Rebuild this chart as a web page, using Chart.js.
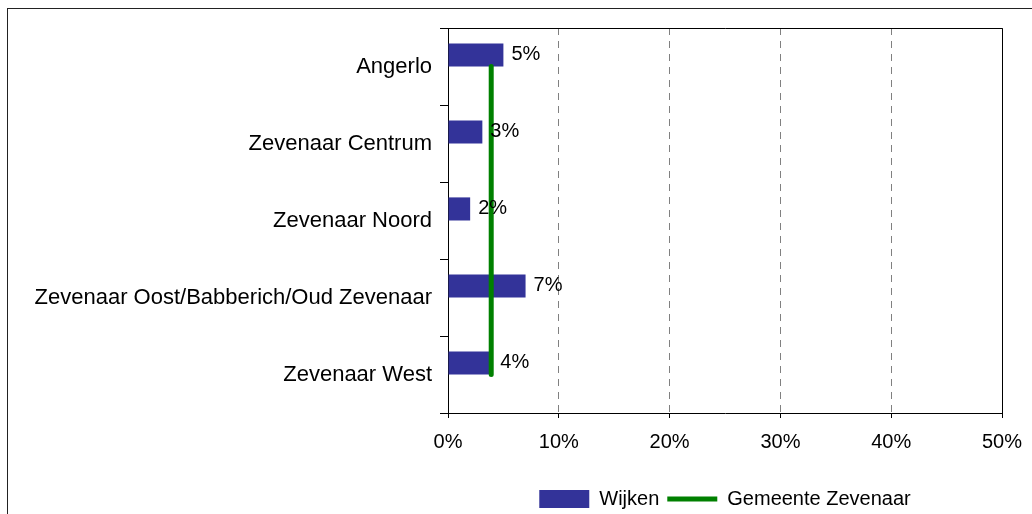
<!DOCTYPE html>
<html>
<head>
<meta charset="utf-8">
<script src="https://cdn.jsdelivr.net/npm/chart.js@4/dist/chart.umd.min.js"></script>
<style>
    html, body { margin: 0; padding: 0; background: #fff; }
    .frame { position: absolute; left: 7px; top: 8px; width: 1100px; height: 600px; border: 1px solid #222; }
    .wrap { position: absolute; left: 0; top: 0; width: 1032px; height: 514px; }
</style>
</head>
<body>
<div class="frame"></div>
<div class="wrap"><canvas id="myChart" width="1032" height="514"></canvas></div>
<script>
'use strict';
// =============== data ===============
const wijken = ['Angerlo', 'Zevenaar Centrum', 'Zevenaar Noord', 'Zevenaar Oost/Babberich/Oud Zevenaar', 'Zevenaar West'];
const wijkWaarden = [5.0, 3.1, 2.0, 7.0, 4.0];
const gemeenteWaarden = [3.9, 3.9, 3.9, 3.9, 3.9];
const xTicks = [0, 10, 20, 30, 40, 50];

Chart.defaults.font.family = '"Liberation Sans", Arial, sans-serif';
Chart.defaults.color = '#000';

// =============== value labels next to bars ===============
const barLabels = {
    id: 'barLabels',
    afterDatasetsDraw(chart) {
        const ctx = chart.ctx;
        const meta = chart.getDatasetMeta(0);
        ctx.save();
        ctx.font = '20px "Liberation Sans", Arial, sans-serif';
        ctx.fillStyle = '#000';
        ctx.textBaseline = 'middle';
        meta.data.forEach((bar, i) => {
            ctx.fillText(Math.round(wijkWaarden[i]) + '%', bar.x + 8, bar.y);
        });
        ctx.restore();
    }
};

// =============== plot frame (top + right) ===============
const plotFrame = {
    id: 'plotFrame',
    afterDraw(chart) {
        const a = chart.chartArea;
        const ctx = chart.ctx;
        const right = Math.round(chart.scales.x.getPixelForValue(50) - 0.5) + 0.5;
        const top = Math.round(a.top - 0.5) + 0.5;
        ctx.save();
        ctx.strokeStyle = '#000';
        ctx.lineWidth = 1;
        ctx.beginPath();
        ctx.moveTo(a.left, top);
        ctx.lineTo(right, top);
        ctx.lineTo(right, a.bottom);
        ctx.stroke();
        ctx.restore();
    }
};

// =============== chart ===============
let myChart = document.getElementById('myChart').getContext('2d');

let barChart = new Chart(myChart, {
    type: 'bar',
    data: {
        labels: wijken,
        datasets: [{
            label: 'Wijken',
            data: wijkWaarden,
            backgroundColor: '#333399',
            borderWidth: 0,
            pointStyle: 'rect',
            categoryPercentage: 0.6,
            barPercentage: 1.0,
            order: 1
        }, {
            // empty slot so the bars sit in the upper half of each row
            label: '',
            data: [],
            categoryPercentage: 0.6,
            barPercentage: 1.0,
            order: 2
        }, {
            type: 'line',
            label: 'Gemeente Zevenaar',
            data: gemeenteWaarden,
            indexAxis: 'y',
            borderColor: '#008000',
            backgroundColor: '#008000',
            borderWidth: 5,
            borderCapStyle: 'round',
            pointRadius: 0,
            pointStyle: 'line',
            fill: false,
            order: 0
        }]
    },
    options: {
        indexAxis: 'y',
        responsive: false,
        animation: false,
        layout: {
            padding: { top: 28, right: 30, bottom: -5, left: 0 }
        },
        plugins: {
            tooltip: { enabled: false },
            legend: {
                position: 'bottom',
                fullSize: false,
                labels: {
                    usePointStyle: true,
                    pointStyleWidth: 50,
                    boxHeight: 18,
                    padding: 8,
                    font: { size: 20 },
                    filter: (item) => item.datasetIndex !== 1,
                    sort: (a, b) => a.datasetIndex - b.datasetIndex
                }
            }
        },
        scales: {
            x: {
                min: 0,
                max: 50,
                afterBuildTicks: (scale) => {
                    scale.ticks = xTicks.map(v => ({ value: v }));
                },
                afterFit: (scale) => {
                    scale.height = 68;
                    scale.paddingLeft = 0;
                    scale.paddingRight = 0;
                },
                ticks: {
                    font: { size: 20 },
                    padding: 12,
                    callback: (v) => v + '%'
                },
                grid: {
                    color: '#808080',
                    tickColor: '#000',
                    tickLength: 5
                },
                border: { color: '#000', width: 1, dash: [7, 6] }
            },
            y: {
                afterFit: (scale) => {
                    scale.width = 448;
                },
                ticks: {
                    font: { size: 22 },
                    padding: 8
                },
                grid: {
                    drawOnChartArea: false,
                    tickColor: '#000',
                    tickLength: 8
                },
                border: { color: '#000', width: 1 }
            }
        }
    },
    plugins: [barLabels, plotFrame]
});
</script>
</body>
</html>
